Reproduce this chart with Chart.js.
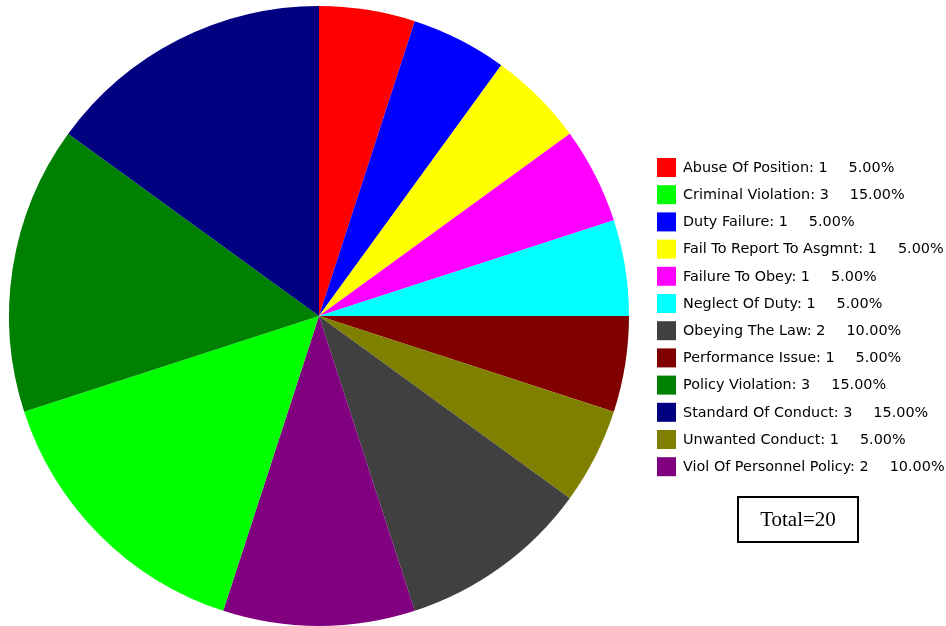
<!DOCTYPE html>
<html><head><meta charset="utf-8">
<script src="https://cdn.jsdelivr.net/npm/chart.js@4/dist/chart.umd.min.js"></script>
<style>html,body{margin:0;padding:0;background:#fff;overflow:hidden}#wrap{position:relative;width:946px;height:626px}</style>
</head><body><div id="wrap"><canvas id="c" width="946" height="626"></canvas></div>
<script>
// Legend (alphabetical) order
const categories = ["Abuse Of Position","Criminal Violation","Duty Failure","Fail To Report To Asgmnt","Failure To Obey","Neglect Of Duty","Obeying The Law","Performance Issue","Policy Violation","Standard Of Conduct","Unwanted Conduct","Viol Of Personnel Policy"];
const counts = [1,3,1,1,1,1,2,1,3,3,1,2];
const colors = ["#FF0000","#00FF00","#0000FF","#FFFF00","#FF00FF","#00FFFF","#404040","#800000","#008000","#000080","#808000","#800080"];
// Order of slices clockwise from 12 o'clock (indices into categories)
const pieOrder = [0,2,3,4,5,7,10,6,11,1,8,9];
const totalLabel = "Total=20";

const total = counts.reduce((a,b)=>a+b,0);

const legendPlugin = {
  id:'customLegend',
  afterDraw(chart){
    const ctx = chart.ctx;
    ctx.save();
    const x0 = 657, y0 = 158, step = 27.2, box = 19;
    ctx.font = '14.4px "DejaVu Sans"';
    ctx.textBaseline = 'middle';
    categories.forEach((c,i)=>{
      const y = y0 + i*step;
      ctx.fillStyle = colors[i];
      ctx.fillRect(x0, y, box, box);
      ctx.fillStyle = '#000';
      const t1 = c + ': ' + counts[i];
      ctx.fillText(t1, 683, y + box/2 + 0.5);
      const w = ctx.measureText(t1).width;
      ctx.fillText((counts[i]/total*100).toFixed(2)+'%', 683 + w + 21, y + box/2 + 0.5);
    });
    // Total box
    ctx.lineWidth = 2;
    ctx.strokeStyle = '#000';
    ctx.strokeRect(738, 497, 120, 45);
    ctx.font = '21px "Liberation Serif"';
    ctx.textAlign = 'center';
    ctx.fillText(totalLabel, 798, 520);
    ctx.restore();
  }
};

new Chart(document.getElementById('c'), {
  type:'pie',
  data:{
    labels: pieOrder.map(i=>categories[i]),
    datasets:[{
      data: pieOrder.map(i=>counts[i]),
      backgroundColor: pieOrder.map(i=>colors[i]),
      borderWidth:0
    }]
  },
  options:{
    responsive:false,
    animation:false,
    layout:{padding:{left:9,right:317,top:6,bottom:0}},
    plugins:{legend:{display:false},tooltip:{enabled:false}}
  },
  plugins:[legendPlugin]
});
</script></body></html>
